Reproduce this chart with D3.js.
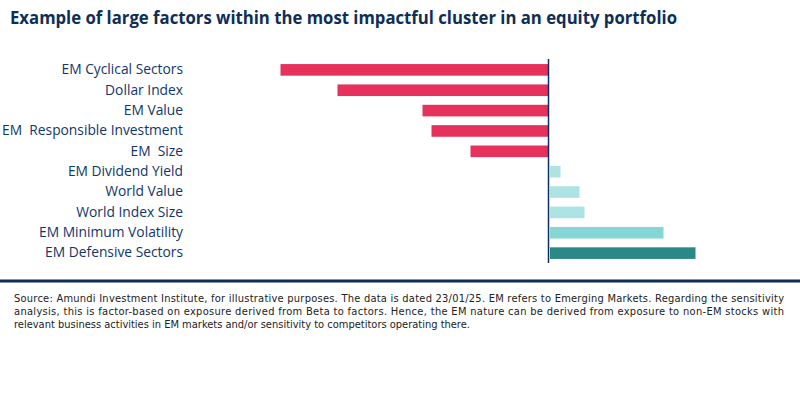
<!DOCTYPE html>
<html>
<head>
<meta charset="utf-8">
<script src="https://cdn.jsdelivr.net/npm/d3@7/dist/d3.min.js"></script>
<style>
  body { margin: 0; background: #fff; }
  svg { display: block; }
</style>
</head>
<body>
<svg width="800" height="394" id="mainsvg"></svg>
<script>
// data (sensitivity, arbitrary units)
const FACTORS = [
  "EM Cyclical Sectors", "Dollar Index", "EM Value", "EM  Responsible Investment",
  "EM  Size", "EM Dividend Yield", "World Value", "World Index Size",
  "EM Minimum Volatility", "EM Defensive Sectors"
];
const VALUES = [-2.68, -2.11, -1.26, -1.17, -0.78, 0.12, 0.31, 0.36, 1.15, 1.47];
const TITLE = "Example of large factors within the most impactful cluster in an equity portfolio";
const NOTE_LINES = [
  "Source: Amundi Investment Institute, for illustrative purposes. The data is dated 23/01/25. EM refers to Emerging Markets. Regarding the sensitivity",
  "analysis, this is factor-based on exposure derived from Beta to factors. Hence, the EM nature can be derived from exposure to non-EM stocks with",
  "relevant business activities in EM markets and/or sensitivity to competitors operating there."
];

const svg = d3.select('svg');
const navy = '#0e2e57';

// colour per bar
const colorOf = (v, i) => {
  if (v < 0) return '#e5315c';
  if (FACTORS[i] === "EM Defensive Sectors") return '#2a8886';
  if (FACTORS[i] === "EM Minimum Volatility") return '#86d6d6';
  return '#ade3e3';
};

// title
svg.append('text')
  .attr('x', 10).attr('y', 24)
  .attr('font-family', 'Open Sans, sans-serif')
  .attr('font-weight', 700)
  .attr('font-size', 17.5)
  .attr('fill', navy)
  .attr('textLength', 667).attr('lengthAdjust', 'spacingAndGlyphs')
  .text(TITLE);

const xScale = d3.scaleLinear().domain([-3, 2.5]).range([248.5, 798.5]);
const yScale = d3.scaleBand().domain(FACTORS).range([60, 263]).paddingInner(0.43).paddingOuter(0.2);

const g = svg.append('g');

g.selectAll('.bar').data(VALUES).join('rect')
  .attr('class', 'bar')
  .attr('x', d => d < 0 ? xScale(d) : xScale(0) + 1.5)
  .attr('y', (d, i) => yScale(FACTORS[i]))
  .attr('width', d => d < 0 ? xScale(0) - xScale(d) : xScale(d) - xScale(0) - 1.5)
  .attr('height', yScale.bandwidth())
  .attr('fill', (d, i) => colorOf(d, i));

// zero line
g.append('line')
  .attr('x1', xScale(0)).attr('x2', xScale(0))
  .attr('y1', 59).attr('y2', 263)
  .attr('stroke', navy).attr('stroke-width', 1.5);

// category labels
g.selectAll('.lbl').data(FACTORS).join('text')
  .attr('class', 'lbl')
  .attr('x', 183)
  .attr('y', d => yScale(d) + yScale.bandwidth() / 2 - 0.5)
  .attr('dy', '0.35em')
  .attr('text-anchor', 'end')
  .attr('font-family', 'Open Sans, sans-serif')
  .attr('font-size', 13.8)
  .attr('fill', '#12366a')
  .style('white-space', 'pre')
  .text(d => d);

// divider
svg.append('rect').attr('x', 0).attr('y', 279.5).attr('width', 800).attr('height', 3).attr('fill', navy);

// footnote
svg.selectAll('.note').data(NOTE_LINES).join('text')
  .attr('class', 'note')
  .attr('x', 14)
  .attr('y', (d, i) => 302 + i * 13)
  .attr('font-family', 'Liberation Sans Narrow, DejaVu Sans Condensed, sans-serif')
  .attr('font-size', 11)
  .attr('fill', '#222')
  .each(function(d, i) {
    if (i < NOTE_LINES.length - 1) d3.select(this).attr('textLength', 770).attr('lengthAdjust', 'spacing');
  })
  .text(d => d);
</script>
</body>
</html>
